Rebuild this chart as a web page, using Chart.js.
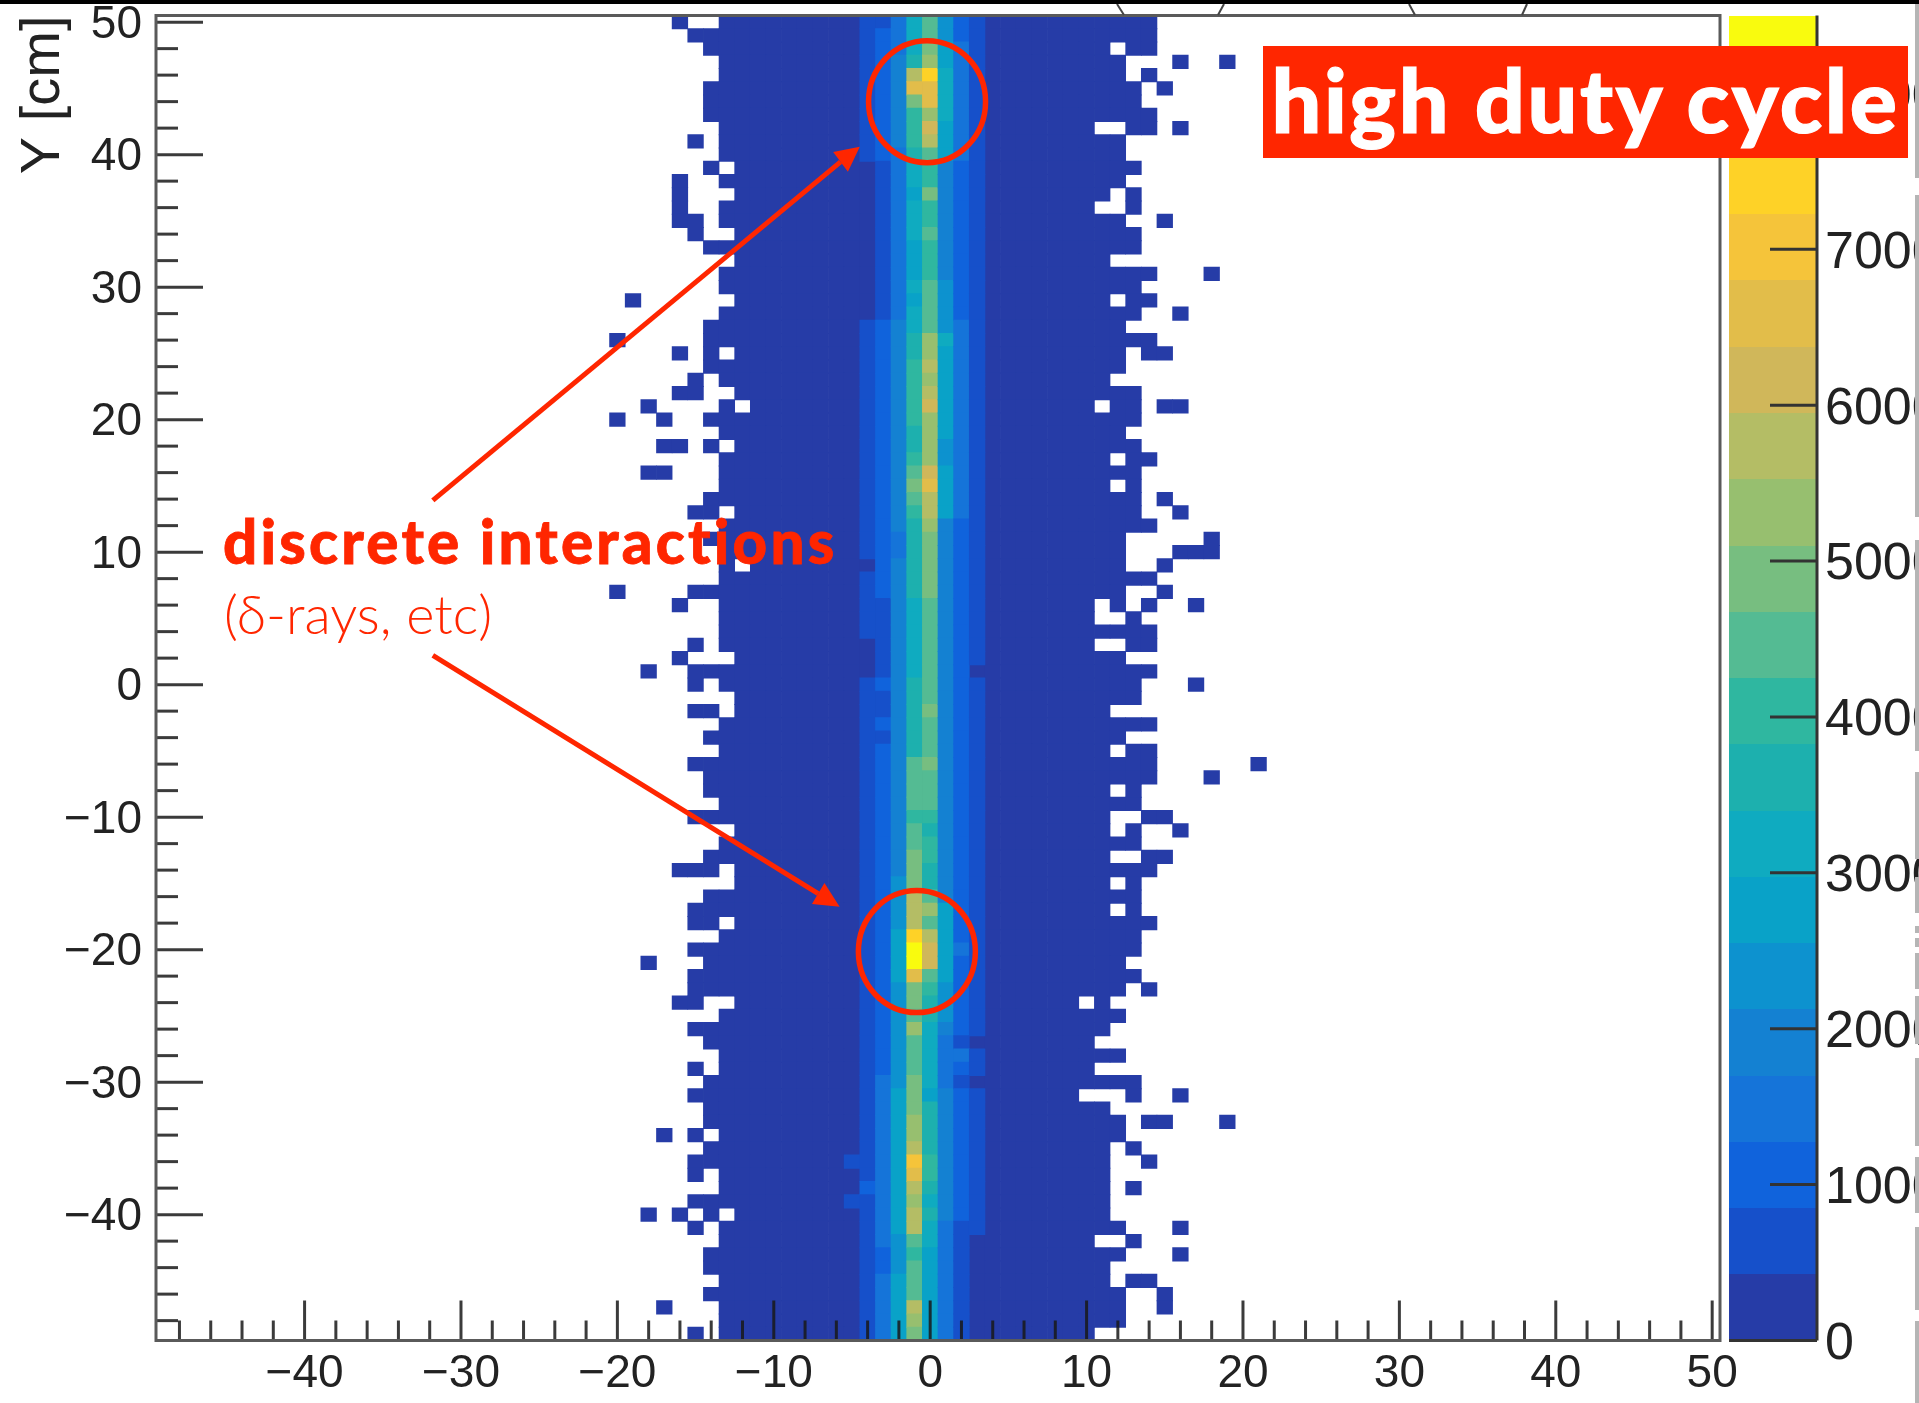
<!DOCTYPE html>
<html>
<head>
<meta charset="utf-8">
<title>high duty cycle</title>
<script src="https://cdn.jsdelivr.net/npm/chart.js@4/dist/chart.umd.min.js"></script>
<style>
    html, body { margin: 0; background: #fff; overflow: hidden; }
    #wrap { position: relative; width: 1919px; height: 1403px; overflow: hidden; }
    #wrap canvas { position: absolute; left: 0; top: 0; filter: blur(0.7px); }
    #topBand { position: absolute; left: 0; top: 0; width: 1919px; height: 4px; background: #000; }
    #dutyBox { position: absolute; left: 1263px; top: 46px; width: 645px; height: 112px; background: #ff2600;
        color: #fff; font: 900 88px Lato, sans-serif; line-height: 106px; text-align: center; white-space: nowrap;
        letter-spacing: 2.6px; -webkit-text-stroke: 1.2px #fff; }
    #discrete { position: absolute; left: 223px; top: 505px; color: #ff2600; font: 900 60px Lato, sans-serif; white-space: nowrap;
        letter-spacing: 3.2px; -webkit-text-stroke: 0.8px #ff2600; }
    #delta { position: absolute; left: 224px; top: 581px; color: #ff2600; font: 300 54px Lato, sans-serif; white-space: nowrap; }
    .stripe { position: absolute; left: 1915px; width: 4px; background: #b5b5b5; }
</style>
</head>
<body>
<div id="wrap">
    <canvas id="chart" width="1919" height="1403"></canvas>
    <div id="topBand"></div>
    <div id="dutyBox">high duty cycle</div>
    <div id="discrete">discrete interactions</div>
    <div id="delta">(δ-rays, etc)</div>
</div>
<script>
// tick labels
const xTickLabels = [-40, -30, -20, -10, 0, 10, 20, 30, 40, 50];
const yTickLabels = [-40, -30, -20, -10, 0, 10, 20, 30, 40, 50];
const zTickLabels = [0, 1000, 2000, 3000, 4000, 5000, 6000, 7000, 8000];
const xMinorTicks = [-48, -46, -44, -42, -38, -36, -34, -32, -28, -26, -24, -22, -18, -16, -14, -12, -8, -6, -4, -2,
    2, 4, 6, 8, 12, 14, 16, 18, 22, 24, 26, 28, 32, 34, 36, 38, 42, 44, 46, 48];
const yMinorTicks = xMinorTicks;

// colour steps of the z axis, 425 counts each, bottom to top
const zStep = 425;
const bandColors = ['#263ca7', '#1650ca', '#1063dc', '#1574d9', '#1481d2', '#0d92cf', '#09a2c8', '#0fabc0', '#1db0ae', '#2fb7a0',
    '#54bb93', '#77be80', '#97bf6f', '#b4bd65', '#d0b75a', '#e2bd4a', '#f5c43a', '#fed227', '#fde31b', '#f9fb0e'];

// rows run from y = 50 down to y = -49, 100 rows of 1 cm
// first and last column of the solid lowest-band block in each row
const bodyLeft = [-13, -15, -14, -13, -13, -14, -14, -14, -13, -13,
    -13, -12, -13, -12, -13, -13, -12, -14, -12, -13,
    -13, -12, -13, -14, -14, -12, -14, -13, -12, -11,
    -14, -13, -12, -13, -13, -13, -14, -12, -13, -14,
    -13, -11, -13, -15, -13, -13, -13, -13, -12, -15,
    -13, -12, -12, -13, -14, -13, -15, -14, -14, -13,
    -15, -12, -13, -14, -12, -12, -14, -15, -12, -13,
    -15, -14, -15, -15, -12, -13, -15, -14, -13, -13,
    -14, -15, -14, -14, -13, -14, -15, -13, -13, -15,
    -12, -13, -13, -14, -14, -13, -14, -13, -13, -13];
const bodyRight = [14, 14, 11, 12, 12, 13, 13, 14, 10, 12,
    12, 13, 12, 11, 10, 12, 13, 13, 11, 14,
    13, 11, 13, 12, 14, 12, 12, 11, 13, 10,
    13, 12, 13, 11, 13, 11, 13, 13, 14, 12,
    12, 12, 14, 12, 10, 10, 14, 10, 12, 14,
    13, 13, 11, 14, 12, 11, 14, 14, 11, 13,
    11, 11, 13, 11, 14, 11, 13, 11, 14, 13,
    13, 12, 13, 12, 9, 12, 11, 10, 12, 10,
    13, 9, 11, 12, 12, 11, 11, 11, 11, 11,
    11, 12, 10, 12, 11, 11, 12, 12, 12, 10];

// lone lowest-band cells outside the block
const strayX = [-16, 13, 14, 16, 19, 14, 15, 13, 14, 16, -15, -14, -16, -16, 13, -16, 13, -16, -15, 15, -15, 18,
    -19, 13, 14, 16, -20, -16, -14, 14, 15, -15, -16, -15, -18, -13, 12, 13, 15, 16, -20, -17,
    -17, -16, -14, 13, 14, -18, -17, 13, 15, -15, -14, 16, 18, 16, 17, 18, -13, 15, -20, 15,
    -16, 12, 14, 17, 13, -15, 13, 14, -16, -18, -15, 17, -15, -14, 13, 14, 21, 18, 13, 14, 15,
    13, 16, 14, 15, -16, -15, -14, 13, 13, -15, -14, -18, 14, -16, -15, 11, -15, 13, 16,
    14, 15, 19, -17, -15, 13, 14, -15, 13, -18, -16, -14, -15, 16, 13, 16, 13, 14, 15, -17, 15, -15];
const strayY = [50, 48, 48, 47, 47, 46, 45, 42, 42, 42, 41, 39, 38, 37, 37, 36, 36, 35, 35, 35, 34, 31,
    29, 29, 29, 28, 26, 25, 25, 25, 25, 23, 22, 22, 21, 21, 21, 21, 21, 21, 20, 20,
    18, 18, 18, 17, 17, 16, 16, 15, 14, 13, 13, 13, 11, 10, 10, 10, 9, 9, 7, 7,
    6, 6, 6, 6, 5, 3, 3, 3, 2, 1, 0, 0, -2, -2, -5, -5, -6, -7, -8, -10, -10,
    -11, -11, -13, -13, -14, -14, -14, -15, -17, -18, -18, -21, -23, -24, -24, -24, -29, -31, -31,
    -33, -33, -33, -34, -34, -35, -36, -37, -38, -40, -40, -40, -41, -41, -42, -43, -45, -45, -46, -47, -47, -49];

// colour band of the core columns, top row first
const coreM5 = [0,0,0,0,0,0,0,0,0,0, 0,0,0,0,0,0,0,0,0,0, 0,0,0,0,0,0,0,0,0,0, 0,0,0,0,0,0,0,0,0,0,
    0,0,0,0,0,0,0,0,0,0, 0,0,0,0,0,0,0,0,0,0, 0,0,0,0,0,0,0,0,0,0, 0,0,0,0,0,0,0,0,0,0,
    0,0,0,0,0,0,1,0,0,1, 0,0,0,0,0,0,0,0,0,0];
const coreM4 = [1,1,1,1,1,1,1,1,1,1, 1,0,0,0,0,0,0,0,0,0, 0,0,0,1,1,1,1,1,1,1, 1,1,1,1,1,1,1,1,1,1,
    1,0,1,1,1,1,1,0,0,0, 1,1,1,1,1,1,1,1,1,1, 1,1,1,1,1,1,1,1,1,1, 1,1,1,1,1,1,1,1,1,1,
    1,1,1,1,1,1,1,1,2,1, 1,1,1,1,1,1,1,1,1,1];
const coreM3 = [1,2,2,2,2,2,2,2,2,2, 2,1,1,1,1,1,1,1,1,1, 1,1,1,2,2,2,2,2,2,2, 2,2,2,2,2,2,2,2,2,2,
    2,2,2,2,1,1,1,1,1,1, 2,1,1,2,1,2,2,2,2,2, 2,2,2,2,2,2,2,2,2,2, 2,2,2,2,2,2,2,2,2,2,
    3,3,3,3,3,3,3,3,3,3, 3,3,3,2,2,3,3,3,3,3];
const coreM2 = [3,3,3,4,4,4,4,4,4,4, 3,3,3,3,3,3,3,3,3,3, 3,3,3,4,4,4,4,4,4,4, 4,4,4,4,4,4,4,4,4,3,
    3,4,4,4,4,4,4,4,4,4, 4,4,4,4,4,4,4,4,4,4, 4,4,4,4,4,5,5,5,5,6, 6,6,6,5,5,5,5,5,5,5,
    5,6,6,6,6,6,6,6,6,6, 6,6,5,5,5,6,6,6,6,6];
const coreM1 = [7,7,7,8,13,15,11,9,9,9, 8,7,7,6,7,7,7,6,6,6, 7,6,7,7,8,8,9,9,9,9, 9,8,8,9,10,11,10,9,8,8,
    8,8,8,8,7,7,7,7,7,7, 8,8,8,8,8,8,10,10,10,10, 9,10,10,11,11,11,13,13,13,17, 19,19,15,11,11,10,12,10,10,10,
    11,11,11,12,12,13,16,15,13,12, 13,13,10,9,10,10,10,13,12,11];
const core0 = [10,10,11,12,17,15,15,12,14,13, 10,9,9,11,9,9,10,9,9,9, 10,10,10,10,12,12,13,12,13,14, 12,12,12,12,14,15,13,13,12,11,
    11,11,11,11,10,10,10,10,10,10, 10,10,11,10,10,10,11,10,10,10, 9,8,9,9,8,8,10,12,10,13, 14,14,10,9,8,8,7,7,7,7,
    7,6,8,8,8,8,9,9,8,7, 8,7,7,6,6,6,6,6,6,6];
const coreP1 = [5,5,6,6,7,7,7,7,6,6, 6,4,4,4,4,4,4,4,4,4, 5,5,5,5,7,6,6,6,6,6, 6,6,5,5,6,6,6,6,4,4,
    4,4,4,4,4,4,4,4,4,4, 4,4,4,4,4,4,4,4,4,4, 4,4,4,4,4,4,4,6,6,6, 6,6,6,5,5,5,4,3,3,3,
    3,4,4,4,4,4,4,4,4,4, 4,3,3,3,3,3,3,3,3,3];
const coreP2 = [2,2,3,3,3,3,3,3,3,3, 3,2,2,2,2,2,2,2,2,2, 2,2,2,3,3,3,3,3,3,3, 3,3,3,3,3,3,3,3,2,2,
    2,2,2,2,2,2,2,2,2,2, 2,2,2,2,2,2,2,2,2,2, 2,2,2,2,2,2,2,2,2,2, 3,2,2,2,2,2,2,1,3,2,
    1,2,2,2,2,2,2,2,2,2, 2,1,1,1,1,1,1,1,1,1];
const coreP3 = [1,1,1,1,1,1,1,1,1,1, 1,1,1,1,1,1,1,1,1,1, 1,1,1,1,1,1,1,1,1,1, 1,1,1,1,1,1,1,1,1,1,
    1,1,1,1,1,1,1,1,1,0, 1,1,1,1,1,1,1,1,1,1, 1,1,1,1,1,1,1,1,1,1, 1,1,1,1,1,1,1,0,1,1,
    0,1,1,1,1,1,1,1,1,1, 1,1,0,0,0,0,0,0,0,0];
const coreColumns = [[-5, coreM5], [-4, coreM4], [-3, coreM3], [-2, coreM2], [-1, coreM1], [0, core0], [1, coreP1], [2, coreP2], [3, coreP3]];

// annotations, in axis units
const circleCenters = [[-0.2, 44], [-0.85, -20.15]];
const arrows = [
    { from: [-31.8, 13.9], tip: [-4.5, 40.6], wingA: [-6.2, 40.2], wingB: [-5.26, 38.7] },
    { from: [-31.8, 2.2], tip: [-5.79, -16.76], wingA: [-6.76, -14.97], wingB: [-7.56, -16.56] }
];

const X_MIN = -49.5, X_MAX = 50.5, Y_MIN = -49.5, Y_MAX = 50.5;
const RED = '#ff2600';
const TICK = 'rgba(25,25,25,0.85)';

function buildCells() {
    const cells = [];
    // a hair taller than the 1 cm bin so the rows leave no seams
    const add = (x, y, band) => cells.push({ x: x, y: [y - 0.52, y + 0.52], band: band });
    bodyLeft.forEach((left, row) => {
        for (let x = left; x <= bodyRight[row]; x++) add(x, 50 - row, 0);
    });
    strayX.forEach((x, i) => add(x, strayY[i], 0));
    coreColumns.forEach(([x, bands]) => {
        bands.forEach((band, row) => {
            if (band > 0) add(x, 50 - row, band);
        });
    });
    return cells;
}

function minusLabel(v) {
    return String(v).replace('-', '\u2212');
}

// no layout padding from the tick labels, the frame stays where it is
function fixedSize(size) {
    return scale => {
        if (size.width) scale.width = size.width;
        if (size.height) scale.height = size.height;
        scale.paddingTop = scale.paddingBottom = scale.paddingLeft = scale.paddingRight = 0;
    };
}

const framePlugin = {
    id: 'frame',
    afterDatasetsDraw(chart) {
        const { ctx, chartArea: a, scales } = chart;
        ctx.save();

        // inward ticks
        ctx.strokeStyle = TICK;
        ctx.lineWidth = 3;
        const line = (x0, y0, x1, y1) => { ctx.beginPath(); ctx.moveTo(x0, y0); ctx.lineTo(x1, y1); ctx.stroke(); };
        xTickLabels.forEach(v => { const x = scales.x.getPixelForValue(v); line(x, a.bottom, x, a.bottom - 40); });
        xMinorTicks.forEach(v => { const x = scales.x.getPixelForValue(v); line(x, a.bottom, x, a.bottom - 20); });
        yTickLabels.forEach(v => { const y = scales.y.getPixelForValue(v); line(a.left, y, a.left + 47, y); });
        yMinorTicks.forEach(v => { const y = scales.y.getPixelForValue(v); line(a.left, y, a.left + 22, y); });

        // frame
        ctx.strokeStyle = '#5a5a5a';
        ctx.lineWidth = 3;
        ctx.strokeRect(a.left, a.top, a.right - a.left, a.bottom - a.top);

        // colour bar
        const barLeft = a.right + 9, barRight = a.right + 97;
        bandColors.forEach((color, i) => {
            const top = scales.z.getPixelForValue((i + 1) * zStep);
            const bottom = scales.z.getPixelForValue(i * zStep);
            ctx.fillStyle = color;
            ctx.fillRect(barLeft, Math.round(top), barRight - barLeft, Math.round(bottom) - Math.round(top));
        });
        ctx.strokeStyle = '#333';
        ctx.lineWidth = 3;
        line(barRight, a.top, barRight, a.bottom);
        line(barLeft, a.bottom, barRight, a.bottom);
        zTickLabels.forEach(v => {
            const y = scales.z.getPixelForValue(v);
            line(barRight - 47, y, barRight, y);
        });

        // bottoms of the cut-off brackets above the frame
        ctx.strokeStyle = '#444';
        ctx.lineWidth = 2;
        line(1117, 4, 1124, 15);
        line(1224, 4, 1218, 15);
        line(1409, 4, 1415, 15);
        line(1527, 4, 1522, 15);

        // red circles and arrows
        ctx.strokeStyle = RED;
        ctx.fillStyle = RED;
        ctx.lineWidth = 5.5;
        const px = p => [scales.x.getPixelForValue(p[0]), scales.y.getPixelForValue(p[1])];
        circleCenters.forEach(c => {
            const [cx, cy] = px(c);
            ctx.beginPath();
            ctx.ellipse(cx, cy, 58.5, 61, 0, 0, Math.PI * 2);
            ctx.stroke();
        });
        ctx.lineWidth = 5;
        arrows.forEach(arrow => {
            const from = px(arrow.from), tip = px(arrow.tip), a1 = px(arrow.wingA), a2 = px(arrow.wingB);
            line(from[0], from[1], (a1[0] + a2[0]) / 2, (a1[1] + a2[1]) / 2);
            ctx.beginPath();
            ctx.moveTo(tip[0], tip[1]);
            ctx.lineTo(a1[0], a1[1]);
            ctx.lineTo(a2[0], a2[1]);
            ctx.closePath();
            ctx.fill();
        });
        ctx.restore();
    }
};

const tickFont = { family: '"Liberation Sans", Arial, sans-serif', size: 46 };

new Chart(document.getElementById('chart'), {
    type: 'bar',
    data: {
        datasets: [{
            data: buildCells(),
            barThickness: 15.64,
            borderWidth: 0,
            backgroundColor: c => bandColors[c.raw.band]
        }]
    },
    options: {
        responsive: false,
        animation: false,
        events: [],
        layout: { padding: { top: 15.5, left: 0, right: 0, bottom: 0 } },
        plugins: { legend: { display: false }, tooltip: { enabled: false } },
        scales: {
            x: {
                type: 'linear',
                min: X_MIN,
                max: X_MAX,
                offset: false,
                grid: { display: false },
                border: { display: false },
                afterBuildTicks: scale => { scale.ticks = xTickLabels.map(v => ({ value: v })); },
                afterFit: fixedSize({ height: 62.5 }),
                ticks: {
                    autoSkip: false,
                    maxRotation: 0,
                    padding: -2,
                    color: '#222',
                    font: tickFont,
                    callback: minusLabel
                }
            },
            y: {
                type: 'linear',
                min: Y_MIN,
                max: Y_MAX,
                grid: { display: false },
                border: { display: false },
                afterBuildTicks: scale => { scale.ticks = yTickLabels.map(v => ({ value: v })); },
                afterFit: fixedSize({ width: 156 }),
                title: {
                    display: true,
                    text: 'Y [cm]',
                    align: 'end',
                    color: '#222',
                    font: { family: tickFont.family, size: 56 },
                    padding: { top: 10, bottom: 0 }
                },
                ticks: {
                    autoSkip: false,
                    padding: 6,
                    labelOffset: 3,
                    color: '#222',
                    font: tickFont,
                    callback: minusLabel
                }
            },
            z: {
                type: 'linear',
                position: 'right',
                min: 0,
                max: 8500,
                grid: { display: false },
                border: { display: false },
                afterBuildTicks: scale => { scale.ticks = zTickLabels.map(v => ({ value: v })); },
                afterFit: fixedSize({ width: 199 }),
                ticks: {
                    autoSkip: false,
                    padding: 97,
                    labelOffset: 4,
                    color: '#222',
                    font: { family: tickFont.family, size: 52 },
                    callback: v => String(v)
                }
            }
        }
    },
    plugins: [framePlugin]
});

// grey strip along the right edge of the picture
const stripeTops = [4, 195, 540, 772, 877, 926, 938, 953, 996, 1058, 1157, 1227, 1321];
const stripeEnds = [178, 517, 751, 859, 913, 933, 947, 989, 1044, 1146, 1213, 1310, 1403];
stripeTops.forEach((top, i) => {
    const s = document.createElement('div');
    s.className = 'stripe';
    s.style.top = top + 'px';
    s.style.height = (stripeEnds[i] - top) + 'px';
    document.getElementById('wrap').appendChild(s);
});
</script>
</body>
</html>
